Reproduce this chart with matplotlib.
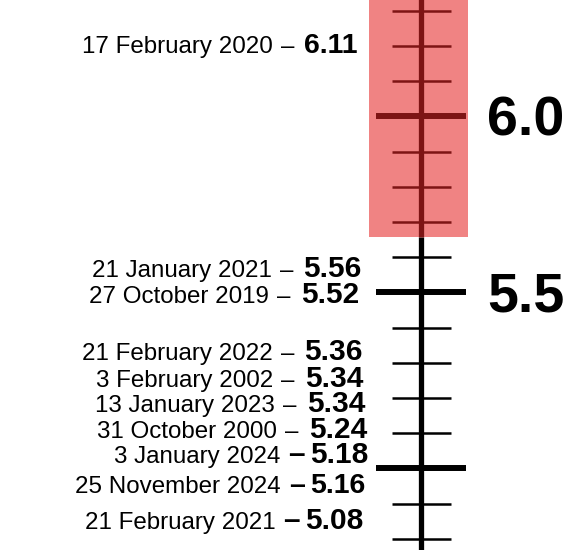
import numpy as np
import matplotlib
matplotlib.use("Agg")
import matplotlib.pyplot as plt
from matplotlib.patches import Rectangle

# ---------------- data ----------------
dates = ["17 February 2020", "21 January 2021", "27 October 2019",
         "21 February 2022", "3 February 2002", "13 January 2023",
         "31 October 2000", "3 January 2024", "25 November 2024",
         "21 February 2021"]
values = [6.11, 5.56, 5.52, 5.36, 5.34, 5.34, 5.24, 5.18, 5.16, 5.08]
bold_dash = [False, False, False, False, False, False, False, True, True, True]

scale_labels = ["6.0", "5.5"]
scale_label_values = [6.0, 5.5]
major_values = [5.0, 5.5, 6.0]
highlight_from = 5.658   # lower edge of the shaded band

# ---------------- layout (label placement, pixels) ----------------
label_baseline_px = [53.3, 276.7, 303.3, 360, 386.7, 411.7, 438.3, 463.3, 493.3, 528.8]
label_right_px = [357.7, 361.7, 359, 363, 363, 365, 367, 368, 365, 363]
num_sizes = [20.5, 21.5, 21.5, 21.5, 21.5, 21.5, 21.5, 21.5, 20.5, 21.5]
DATE_SIZE = 17.4

W, H = 585, 550
Y_TOP, Y_BOT = 6.3304, 4.7679
PX_PER_UNIT = H / (Y_TOP - Y_BOT)


def px2v(y):
    return Y_TOP - y / PX_PER_UNIT


FONT = "Liberation Sans"
DARK = "#7d1414"
SHADE = "#f08383"
XC = 421

fig = plt.figure(figsize=(W / 100, H / 100), dpi=100)
ax = fig.add_axes([0, 0, 1, 1])
ax.set_xlim(0, W)
ax.set_ylim(Y_BOT, Y_TOP)
ax.axis("off")

# shaded band
ax.add_patch(Rectangle((369, highlight_from), 468 - 369, Y_TOP + 0.1 - highlight_from,
                       facecolor=SHADE, edgecolor="none", zorder=1))

# axis line
ax.plot([XC, XC], [Y_BOT - 0.1, highlight_from], color="black", lw=3.8,
        solid_capstyle="butt", zorder=3)
ax.plot([XC, XC], [highlight_from, Y_TOP + 0.1], color=DARK, lw=3.8,
        solid_capstyle="butt", zorder=3)

# ticks
for v in np.round(np.arange(4.8, 6.35, 0.1), 1):
    col = DARK if v > highlight_from else "black"
    if any(abs(v - m) < 1e-6 for m in major_values):
        ax.plot([376, 466], [v, v], color=col, lw=4.3, solid_capstyle="butt", zorder=4)
    else:
        ax.plot([391.7, 450.7], [v, v], color=col, lw=1.8, solid_capstyle="butt", zorder=4)

# scale labels
for lab, v in zip(scale_labels, scale_label_values):
    ax.text(487, v - 19 / PX_PER_UNIT, lab, fontsize=40, fontweight="bold",
            family=FONT, ha="left", va="baseline", color="black", zorder=5)

# event labels
fig.canvas.draw()
renderer = fig.canvas.get_renderer()


def left_edge(t):
    bb = t.get_window_extent(renderer)
    return bb.x0


for d, v, bd, yb, xr, ns in zip(dates, values, bold_dash, label_baseline_px,
                               label_right_px, num_sizes):
    y = px2v(yb)
    tn = ax.text(xr, y, f"{v:.2f}", fontsize=ns, fontweight="bold", family=FONT,
                 ha="right", va="baseline", color="black")
    xl = left_edge(tn)
    if bd:
        td = ax.text(xl - 5, y, "\u2013", fontsize=ns, fontweight="bold", family=FONT,
                     ha="right", va="baseline", color="black")
        xl2 = left_edge(td)
        ax.text(xl2 - 8, y, d, fontsize=DATE_SIZE, family=FONT, ha="right",
                va="baseline", color="black")
    else:
        td = ax.text(xl - 10, y, "\u2013", fontsize=DATE_SIZE, family=FONT,
                     ha="right", va="baseline", color="black")
        xl2 = left_edge(td)
        ax.text(xl2 - 8, y, d, fontsize=DATE_SIZE, family=FONT, ha="right",
                va="baseline", color="black")

fig.savefig("out.png", dpi=100)
